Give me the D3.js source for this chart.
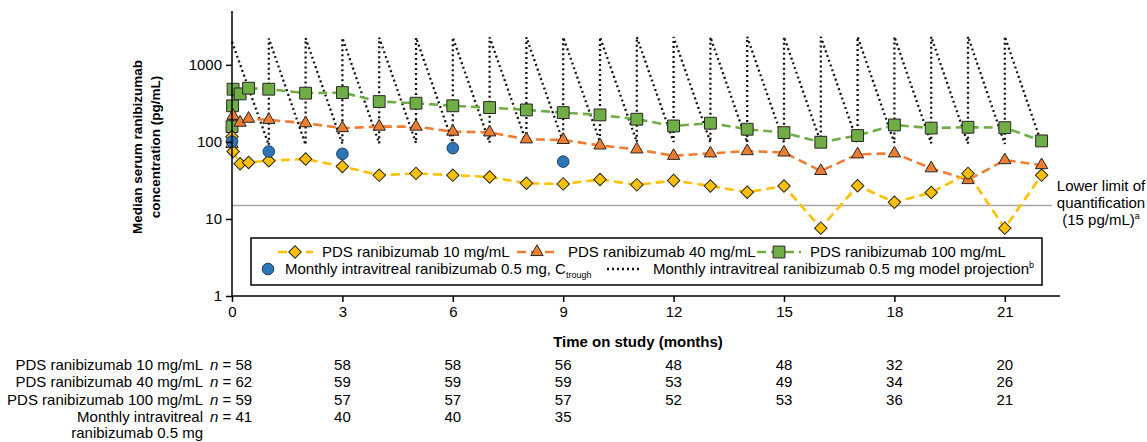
<!DOCTYPE html>
<html>
<head>
<meta charset="utf-8">
<script src="https://cdn.jsdelivr.net/npm/d3@7"></script>
<style>
  html, body { margin: 0; padding: 0; background: #fff; }
  svg { display: block; font-family: "Liberation Sans", Arial, sans-serif; }
</style>
</head>
<body>
<svg id="chart" width="1147" height="442"></svg>
<script>
// ---------------- data ----------------
const yellowTime = [0, 0.03, 0.22, 0.45, 1, 2, 3, 4, 5, 6, 7, 8, 9, 10, 11, 12, 13, 14, 15, 16, 17, 18, 19, 20, 21, 22];
const yellowConc = [117, 75, 52, 54, 57, 60, 48, 37, 39, 37, 35, 29, 28.5, 32.5, 27.7, 31.5, 26.8, 22.2, 26.8, 7.6, 27, 16.5, 22, 39, 7.6, 37];

const orangeTime = [0, 0.03, 0.22, 0.45, 1, 2, 3, 4, 5, 6, 7, 8, 9, 10, 11, 12, 13, 14, 15, 16, 17, 18, 19, 20, 21, 22];
const orangeConc = [94, 218, 178, 200, 193, 175, 151, 158, 158, 136, 133, 108, 106, 90, 80, 66, 71, 76, 73, 42, 69, 71, 45.5, 32, 58, 50];

const greenTime = [0, 0.015, 0.03, 0.22, 0.45, 1, 2, 3, 4, 5, 6, 7, 8, 9, 10, 11, 12, 13, 14, 15, 16, 17, 18, 19, 20, 21, 22];
const greenConc = [158, 294, 483, 420, 498, 483, 429, 437, 334, 318, 294, 279, 260, 240, 224, 197, 161, 175, 146, 132, 99, 121, 166, 151, 155, 153, 103];

const blueTime = [0, 1, 3, 6, 9];
const blueConc = [101, 75, 70, 83, 55.5];

const modelTime = [0, 1, 1, 2, 2, 3, 3, 4, 4, 5, 5, 6, 6, 7, 7, 8, 8, 9, 9, 10, 10, 11, 11,
                   12, 12, 13, 13, 14, 14, 15, 15, 16, 16, 17, 17, 18, 18, 19, 19, 20, 20, 21, 21, 22];
const modelConc = [2000, 91, 2200, 92, 2220, 94, 2240, 96, 2250, 97, 2260, 98, 2270, 98, 2280, 99, 2280, 99, 2290, 100, 2290, 100, 2300,
                   100, 2300, 99, 2300, 98, 2310, 98, 2310, 98, 2310, 97, 2320, 97, 2320, 96, 2320, 95, 2330, 94, 2330, 95];

const xTicks = [0, 3, 6, 9, 12, 15, 18, 21];
const yTicks = [1, 10, 100, 1000];
const lloq = 15;

const tableLabels = ["PDS ranibizumab 10 mg/mL", "PDS ranibizumab 40 mg/mL", "PDS ranibizumab 100 mg/mL", "Monthly intravitreal"];
const tableLabelExtra = "ranibizumab 0.5 mg";
const nBaseline = [58, 62, 59, 41];
const nTimes = [3, 6, 9, 12, 15, 18, 21];
const n10 = [58, 58, 56, 48, 48, 32, 20];
const n40 = [59, 59, 59, 53, 49, 34, 26];
const n100 = [57, 57, 57, 52, 53, 36, 21];
const nMonthly = [40, 40, 35];

// ---------------- styles ----------------
const C_YEL = "#FFC000", C_ORA = "#ED7D31", C_GRN = "#70AD47", C_BLU = "#2E75B6";
const FS = 15;

const svg = d3.select("#chart");
const x = d3.scaleLinear().domain([0, 22.5]).range([232, 1060]);
const y = d3.scaleLog().domain([1, 5000]).range([296, 11]);

// LLOQ line
svg.append("line")
  .attr("x1", x(0)).attr("x2", 1052)
  .attr("y1", y(lloq)).attr("y2", y(lloq))
  .attr("stroke", "#a6a6a6").attr("stroke-width", 1.5);

const lloqText = svg.append("text").attr("text-anchor", "middle").attr("font-size", FS).attr("fill", "#000");
lloqText.append("tspan").attr("x", 1101).attr("y", 191).text("Lower limit of");
lloqText.append("tspan").attr("x", 1101).attr("y", 208).text("quantification");
const l3 = lloqText.append("tspan").attr("x", 1101).attr("y", 225);
l3.text("(15 pg/mL)");
lloqText.append("tspan").attr("font-size", 9).attr("dy", -6).text("a");

// Model projection (dotted)
const modelPts = modelTime.map((t, i) => [t, modelConc[i]]);
svg.append("path")
  .attr("d", d3.line().x(d => x(d[0])).y(d => y(d[1]))(modelPts))
  .attr("fill", "none").attr("stroke", "#111").attr("stroke-width", 2.3)
  .attr("stroke-dasharray", "2,3");

// Dashed series lines
function seriesLine(times, vals, color) {
  const pts = times.map((t, i) => [t, vals[i]]);
  svg.append("path")
    .attr("d", d3.line().x(d => x(d[0])).y(d => y(d[1]))(pts))
    .attr("fill", "none").attr("stroke", color).attr("stroke-width", 2.6)
    .attr("stroke-dasharray", "9,5");
  return pts;
}
const gPts = seriesLine(greenTime, greenConc, C_GRN);
const oPts = seriesLine(orangeTime, orangeConc, C_ORA);
const yPts = seriesLine(yellowTime, yellowConc, C_YEL);

const symSquare = d3.symbol().type(d3.symbolSquare).size(140);
const symDiamond = d3.symbol().type(d3.symbolSquare).size(78);
const symTriangle = d3.symbol().type(d3.symbolTriangle).size(66);

function markers(pts, path, color, rot) {
  svg.append("g").selectAll("path").data(pts).join("path")
    .attr("d", path)
    .attr("transform", d => `translate(${x(d[0])},${y(d[1])}) rotate(${rot})`)
    .attr("fill", color).attr("stroke", "#262626").attr("stroke-width", 1);
}
markers(gPts, symSquare(), C_GRN, 0);
markers(oPts, symTriangle(), C_ORA, 0);
markers(yPts, symDiamond(), C_YEL, 45);

svg.append("g").selectAll("circle").data(blueTime.map((t, i) => [t, blueConc[i]])).join("circle")
  .attr("cx", d => x(d[0])).attr("cy", d => y(d[1])).attr("r", 5.8)
  .attr("fill", C_BLU).attr("stroke", "#1f3f66").attr("stroke-width", 1);

// Axes
const xAxis = svg.append("g").attr("transform", `translate(0,${y(1)})`)
  .call(d3.axisBottom(x).tickValues(xTicks).tickSize(6).tickPadding(4).tickFormat(d3.format("d")));
const yAxis = svg.append("g").attr("transform", `translate(${x(0)},0)`)
  .call(d3.axisLeft(y).tickValues(yTicks).tickSize(6).tickPadding(4).tickFormat(d3.format("d")));
[xAxis, yAxis].forEach(a => {
  a.select(".domain").attr("stroke", "#000").attr("stroke-width", 1.5);
  a.selectAll(".tick line").attr("stroke", "#000").attr("stroke-width", 1.5);
  a.selectAll(".tick text").attr("font-size", FS).attr("fill", "#000")
    .attr("font-family", "Liberation Sans, Arial, sans-serif");
});
xAxis.select(".domain").attr("d", `M${x(0)},0H${x(22.5)}`);
yAxis.select(".domain").attr("d", `M0,${y(1)}V${y(5000)}`);

// Axis titles
svg.append("text").attr("x", 638).attr("y", 347).attr("text-anchor", "middle")
  .attr("font-size", FS).attr("font-weight", "bold").text("Time on study (months)");
const yt = svg.append("text").attr("transform", "translate(0,147) rotate(-90)")
  .attr("text-anchor", "middle").attr("font-size", 13.5).attr("font-weight", "bold");
yt.append("tspan").attr("x", 0).attr("y", 142).text("Median serum ranibizumab");
yt.append("tspan").attr("x", 0).attr("y", 160).text("concentration (pg/mL)");

// Legend
svg.append("rect").attr("x", 251).attr("y", 238).attr("width", 791).attr("height", 47)
  .attr("fill", "#fff").attr("stroke", "#000").attr("stroke-width", 1.5);
const ly1 = 252, ly2 = 269;
function legLine(x1, x2, color) {
  svg.append("line").attr("x1", x1).attr("x2", x2).attr("y1", ly1).attr("y2", ly1)
    .attr("stroke", color).attr("stroke-width", 2.6).attr("stroke-dasharray", "9,5");
}
legLine(278, 313, C_YEL);
svg.append("path").attr("d", symDiamond()).attr("transform", `translate(295,${ly1}) rotate(45)`)
  .attr("fill", C_YEL).attr("stroke", "#262626");
svg.append("text").attr("x", 322).attr("y", ly1 + 5).attr("font-size", FS).text("PDS ranibizumab 10 mg/mL");
legLine(517, 557, C_ORA);
svg.append("path").attr("d", symTriangle()).attr("transform", `translate(537,${ly1})`)
  .attr("fill", C_ORA).attr("stroke", "#262626");
svg.append("text").attr("x", 568).attr("y", ly1 + 5).attr("font-size", FS).text("PDS ranibizumab 40 mg/mL");
legLine(757, 801, C_GRN);
svg.append("path").attr("d", symSquare()).attr("transform", `translate(779,${ly1})`)
  .attr("fill", C_GRN).attr("stroke", "#262626");
svg.append("text").attr("x", 810).attr("y", ly1 + 5).attr("font-size", FS).text("PDS ranibizumab 100 mg/mL");

svg.append("circle").attr("cx", 268).attr("cy", ly2).attr("r", 5.8)
  .attr("fill", C_BLU).attr("stroke", "#1f3f66");
const t2 = svg.append("text").attr("x", 285).attr("y", ly2 + 5).attr("font-size", FS);
t2.append("tspan").text("Monthly intravitreal ranibizumab 0.5 mg, C");
t2.append("tspan").attr("font-size", 9).attr("dy", 4).text("trough");
svg.append("line").attr("x1", 607).attr("x2", 641).attr("y1", ly2).attr("y2", ly2)
  .attr("stroke", "#111").attr("stroke-width", 2.3).attr("stroke-dasharray", "2,3");
const t3 = svg.append("text").attr("x", 653).attr("y", ly2 + 5).attr("font-size", FS);
t3.append("tspan").text("Monthly intravitreal ranibizumab 0.5 mg model projection");
t3.append("tspan").attr("font-size", 9).attr("dy", -6).text("b");

// Table of n
const rowY = [369.5, 387, 404.5, 421.5];
tableLabels.forEach((lab, i) => {
  svg.append("text").attr("x", 203).attr("y", rowY[i]).attr("text-anchor", "end")
    .attr("font-size", FS).text(lab);
  const nt = svg.append("text").attr("x", x(0) - 1).attr("y", rowY[i]).attr("text-anchor", "middle").attr("font-size", FS);
  nt.append("tspan").attr("font-style", "italic").text("n");
  nt.append("tspan").text(" = " + nBaseline[i]);
});
svg.append("text").attr("x", 203).attr("y", 438).attr("text-anchor", "end")
  .attr("font-size", FS).text(tableLabelExtra);
[n10, n40, n100, nMonthly].forEach((arr, i) => {
  arr.forEach((v, j) => {
    svg.append("text").attr("x", x(nTimes[j])).attr("y", rowY[i]).attr("text-anchor", "middle")
      .attr("font-size", FS).text(v);
  });
});
</script>
</body>
</html>
